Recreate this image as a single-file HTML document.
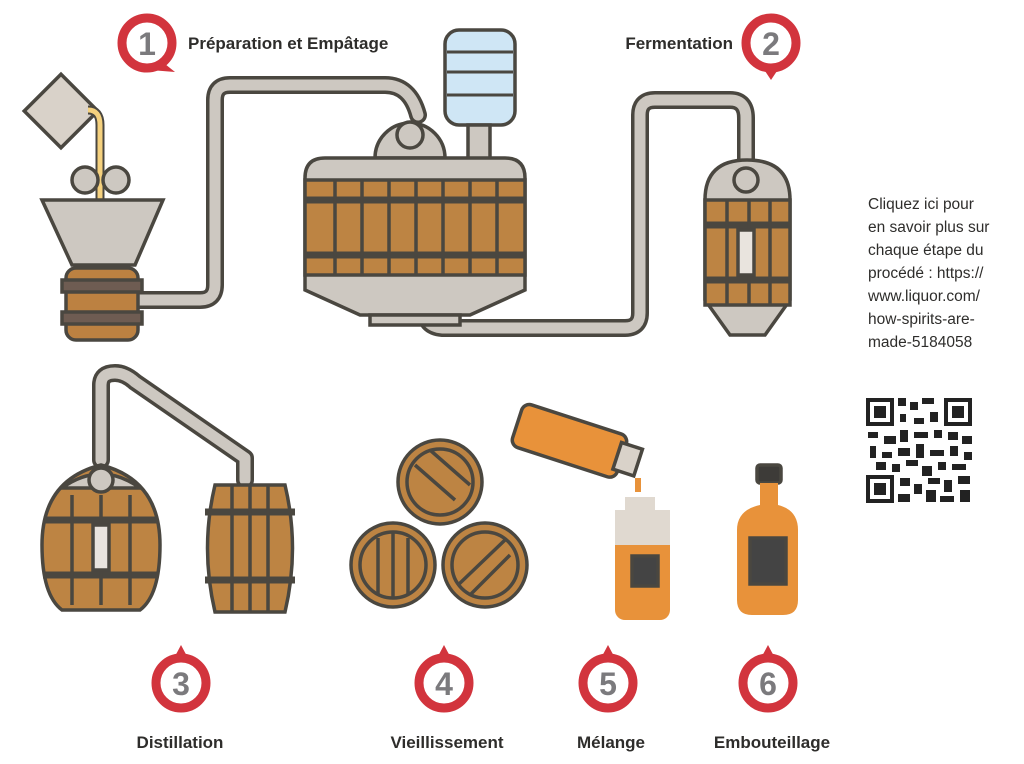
<!DOCTYPE html>
<html><head><meta charset="utf-8"><style>
body{margin:0;background:#fff;width:1024px;height:764px;overflow:hidden}
svg{display:block}
text{font-family:"Liberation Sans",sans-serif}
</style></head><body>
<svg width="1024" height="764" viewBox="0 0 1024 764" xmlns="http://www.w3.org/2000/svg">
<defs>
<g id="mk"><circle r="25" fill="#fff" stroke="#d2343d" stroke-width="9"/></g>
</defs>
<g fill="none" stroke-linecap="round" stroke-linejoin="round">
<path d="M135 300 H200 Q215 300 215 285 V100 Q215 85 230 85 H385 Q410 85 418 115" stroke="#4a4740" stroke-width="18"/>
<path d="M135 300 H200 Q215 300 215 285 V100 Q215 85 230 85 H385 Q410 85 418 115" stroke="#cdc8c1" stroke-width="11"/>
<path d="M425 310 Q425 328 445 328 H625 Q640 328 640 313 V115 Q640 100 655 100 H730 Q746 100 746 118 V160" stroke="#4a4740" stroke-width="18"/>
<path d="M425 310 Q425 328 445 328 H625 Q640 328 640 313 V115 Q640 100 655 100 H730 Q746 100 746 118 V160" stroke="#cdc8c1" stroke-width="11"/>
<path d="M101 460 V385 Q101 373 115 373 Q125 373 135 382 L245 458 V480" stroke="#4a4740" stroke-width="18"/>
<path d="M101 460 V385 Q101 373 115 373 Q125 373 135 382 L245 458 V480" stroke="#cdc8c1" stroke-width="11"/>
</g>
<g stroke="#4a4740" stroke-width="3.5">
<rect x="35" y="85" width="52" height="52" transform="rotate(45 61 111)" fill="#d9d2c9"/>
<path d="M88 110 Q100 110 100 125 V200" stroke="#4a4740" stroke-width="9" fill="none"/>
<path d="M88 110 Q100 110 100 125 V200" stroke="#f5d17e" stroke-width="5" fill="none"/>
<circle cx="85" cy="180" r="13" fill="#cdc8c1"/><circle cx="116" cy="180" r="13" fill="#cdc8c1"/>
<path d="M42 200 H163 L135 265 H72 Z" fill="#cdc8c1"/>
<rect x="66" y="268" width="72" height="72" rx="10" fill="#bc8141"/>
<rect x="62" y="280" width="80" height="12" fill="#6e5c52"/><rect x="62" y="312" width="80" height="12" fill="#6e5c52"/>
<rect x="445" y="30" width="70" height="95" rx="14" fill="#cfe6f5"/>
<path d="M447 52 H513 M447 72 H513 M447 95 H513" stroke-width="3"/>
<rect x="468" y="125" width="22" height="35" fill="#cdc8c1"/>
<path d="M375 158 A35 35 0 0 1 445 158 Z" fill="#cdc8c1"/>
<circle cx="410" cy="135" r="13" fill="#cdc8c1"/>
<path d="M305 178 Q305 158 325 158 H505 Q525 158 525 178 V290 L470 315 H360 L305 290 Z" fill="#cdc8c1"/>
<rect x="305" y="180" width="220" height="95" fill="#bd8443"/>
<path d="M305 200 H525 M305 255 H525" stroke-width="7"/>
<path d="M335 180V275 M362 180V275 M389 180V275 M416 180V275 M443 180V275 M470 180V275 M497 180V275"/>
<rect x="370" y="315" width="90" height="10" fill="#cdc8c1"/>
<path d="M705 200 Q705 160 747 160 Q790 160 790 200 V300 L765 335 H730 L705 300 Z" fill="#cdc8c1"/>
<rect x="705" y="200" width="85" height="105" fill="#bd8443"/>
<path d="M705 225 H790 M705 280 H790" stroke-width="7"/>
<path d="M727 200V305 M749 200V305 M770 200V305"/>
<circle cx="746" cy="180" r="12" fill="#cdc8c1"/>
<rect x="738" y="230" width="16" height="45" fill="#e9e4de"/>
<path d="M42 545 Q42 480 101 465 Q160 480 160 545 Q160 595 140 610 H62 Q42 595 42 545Z" fill="#bd8443"/>
<path d="M62 488 Q101 460 140 488Z" fill="#cdc8c1"/>
<circle cx="101" cy="480" r="12" fill="#cdc8c1"/>
<path d="M45 520 H157 M43 575 H158" stroke-width="7"/>
<path d="M72 495V605 M101 495V605 M130 495V605"/>
<rect x="93" y="525" width="16" height="45" fill="#e9e4de"/>
<path d="M215 485 H285 Q300 548 285 612 H215 Q200 548 215 485Z" fill="#bd8443"/>
<path d="M205 512 H295 M205 580 H295" stroke-width="7"/>
<path d="M232 485V612 M250 485V612 M268 485V612"/>
<circle cx="440" cy="482" r="42" fill="#bd8443"/><circle cx="440" cy="482" r="33" fill="none"/>
<circle cx="393" cy="565" r="42" fill="#bd8443"/><circle cx="393" cy="565" r="33" fill="none"/>
<circle cx="485" cy="565" r="42" fill="#bd8443"/><circle cx="485" cy="565" r="33" fill="none"/>
<path d="M415 465 L455 500 M430 450 L470 485 M378 538V595 M393 533V598 M408 538V595 M458 585 L505 540 M470 595 L510 555"/>
<g transform="rotate(18 575 440)"><rect x="515" y="420" width="110" height="45" rx="8" fill="#e8923a"/><rect x="620" y="428" width="22" height="28" fill="#d9d2c9"/></g>
<path d="M638 478 V492" stroke="#e8923a" stroke-width="6"/>
<rect x="625" y="497" width="30" height="15" fill="#e0d9d0" stroke="none"/>
<rect x="615" y="510" width="55" height="110" rx="10" fill="#e8923a" stroke="none"/>
<rect x="615" y="510" width="55" height="35" fill="#e0d9d0" stroke="none"/>
<rect x="632" y="556" width="26" height="30" fill="#444"/>
<rect x="757" y="465" width="24" height="18" rx="3" fill="#3d3b38"/>
<path d="M760 483 H778 V505 Q798 510 798 530 V600 Q798 615 783 615 H752 Q737 615 737 600 V530 Q737 510 760 505Z" fill="#e8923a" stroke="none"/>
<rect x="750" y="538" width="36" height="46" fill="#444"/>
</g>
<g><path d="M160 60 L175 72 L150 70Z" fill="#d2343d"/><use href="#mk" x="147" y="43"/><text x="147" y="55" font-size="32" font-weight="bold" text-anchor="middle" fill="#7b7a7d">1</text></g>
<g><path d="M763 68 L771 80 L779 68Z" fill="#d2343d"/><use href="#mk" x="771" y="43"/><text x="771" y="55" font-size="32" font-weight="bold" text-anchor="middle" fill="#7b7a7d">2</text></g>
<g fill="#d2343d"><path d="M173 660 L181 645 L189 660Z"/><path d="M436 660 L444 645 L452 660Z"/><path d="M600 660 L608 645 L616 660Z"/><path d="M760 660 L768 645 L776 660Z"/></g>
<use href="#mk" x="181" y="683"/><use href="#mk" x="444" y="683"/><use href="#mk" x="608" y="683"/><use href="#mk" x="768" y="683"/>
<g font-size="32" font-weight="bold" text-anchor="middle" fill="#7b7a7d"><text x="181" y="695">3</text><text x="444" y="695">4</text><text x="608" y="695">5</text><text x="768" y="695">6</text></g>
<g font-size="17" font-weight="bold" fill="#2e2d2b">
<text x="188" y="49">Préparation et Empâtage</text>
<text x="733" y="49" text-anchor="end">Fermentation</text>
<text x="180" y="748" text-anchor="middle">Distillation</text>
<text x="447" y="748" text-anchor="middle">Vieillissement</text>
<text x="611" y="748" text-anchor="middle">Mélange</text>
<text x="772" y="748" text-anchor="middle">Embouteillage</text>
</g>
<g font-size="15.5" fill="#2e2d2b">
<text x="868" y="209">Cliquez ici pour</text>
<text x="868" y="232">en savoir plus sur</text>
<text x="868" y="255">chaque étape du</text>
<text x="868" y="278">procédé :  https://</text>
<text x="868" y="301">www.liquor.com/</text>
<text x="868" y="324">how-spirits-are-</text>
<text x="868" y="347">made-5184058</text>
</g>
<g fill="#222">
<rect x="866" y="398" width="28" height="28"/><rect x="870" y="402" width="20" height="20" fill="#fff"/><rect x="874" y="406" width="12" height="12"/>
<rect x="944" y="398" width="28" height="28"/><rect x="948" y="402" width="20" height="20" fill="#fff"/><rect x="952" y="406" width="12" height="12"/>
<rect x="866" y="475" width="28" height="28"/><rect x="870" y="479" width="20" height="20" fill="#fff"/><rect x="874" y="483" width="12" height="12"/>
<path d="M898 398h8v8h-8zM910 402h8v8h-8zM922 398h12v6h-12zM900 414h6v8h-6zM914 418h10v6h-10zM930 412h8v10h-8zM868 432h10v6h-10zM884 436h12v8h-12zM900 430h8v12h-8zM914 432h14v6h-14zM934 430h8v8h-8zM948 432h10v8h-10zM962 436h10v8h-10zM870 446h6v12h-6zM882 452h10v6h-10zM898 448h12v8h-12zM916 444h8v14h-8zM930 450h14v6h-14zM950 446h8v10h-8zM964 452h8v8h-8zM876 462h10v8h-10zM892 464h8v8h-8zM906 460h12v6h-12zM922 466h10v10h-10zM938 462h8v8h-8zM952 464h14v6h-14zM900 478h10v8h-10zM914 484h8v10h-8zM928 478h12v6h-12zM944 480h8v12h-8zM958 476h12v8h-12zM898 494h12v8h-12zM926 490h10v12h-10zM940 496h14v6h-14zM960 490h10v12h-10z"/>
</g>
</svg>
</body></html>
